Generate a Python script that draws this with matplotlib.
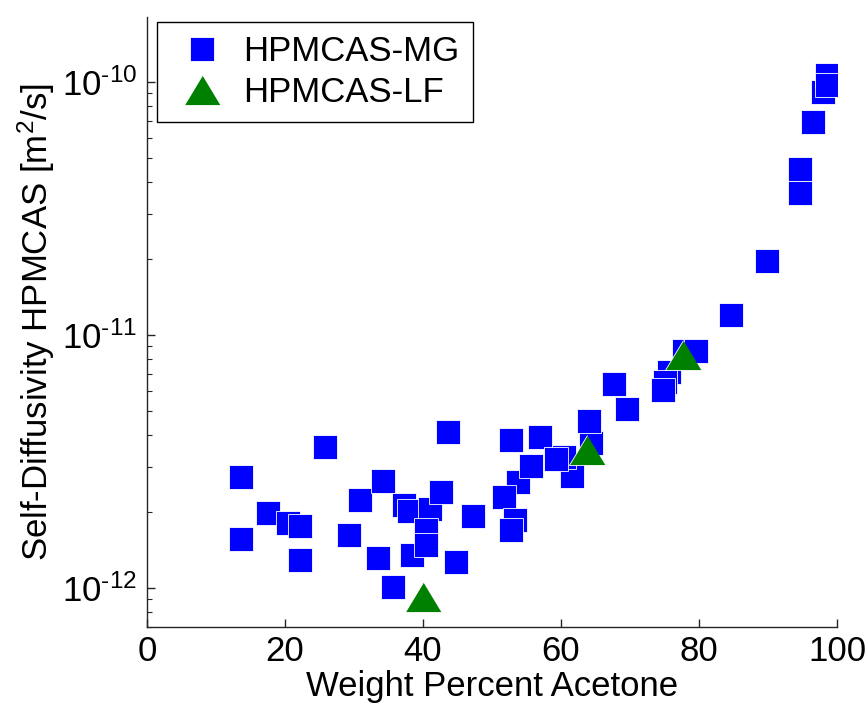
import numpy as np
import matplotlib
matplotlib.use("Agg")
import matplotlib.pyplot as plt
from matplotlib.ticker import FuncFormatter, NullFormatter

plt.rcParams['font.family'] = ['Liberation Sans', 'DejaVu Sans']
plt.rcParams['mathtext.fontset'] = 'custom'
plt.rcParams['mathtext.rm'] = 'Liberation Sans'
plt.rcParams['mathtext.default'] = 'regular'
plt.rcParams['axes.unicode_minus'] = False

# HPMCAS-MG (weight percent acetone, self-diffusivity m^2/s)
mg_acetone = [13.6, 13.6, 17.5, 20.4, 22.2, 22.2, 25.8, 29.3, 30.9, 33.5,
              34.2, 35.6, 37.2, 38.0, 38.4, 41.0, 40.5, 40.5, 42.6, 43.6,
              44.8, 47.2, 52.7, 57.0, 53.7, 55.7, 51.7, 53.4, 52.7, 61.6,
              60.4, 59.3, 64.3, 64.0, 67.7, 69.6, 75.7, 75.0, 74.8, 77.8,
              79.6, 84.6, 89.8, 94.6, 94.6, 96.5, 97.9, 98.6, 98.6]
mg_diff = [2.73e-12, 1.56e-12, 1.98e-12, 1.81e-12, 1.76e-12, 1.29e-12, 3.61e-12, 1.62e-12, 2.22e-12, 1.31e-12,
           2.65e-12, 1.01e-12, 2.12e-12, 2.01e-12, 1.35e-12, 2.04e-12, 1.69e-12, 1.48e-12, 2.39e-12, 4.12e-12,
           1.26e-12, 1.92e-12, 3.84e-12, 3.94e-12, 2.62e-12, 3.03e-12, 2.29e-12, 1.86e-12, 1.69e-12, 2.77e-12,
           3.30e-12, 3.23e-12, 3.73e-12, 4.57e-12, 6.41e-12, 5.07e-12, 7.11e-12, 6.51e-12, 6.04e-12, 8.61e-12,
           8.61e-12, 1.20e-11, 1.95e-11, 4.50e-11, 3.63e-11, 6.90e-11, 9.10e-11, 1.06e-10, 9.70e-11]

# HPMCAS-LF
lf_acetone = [40.0, 63.7, 77.7]
lf_diff = [9.2e-13, 3.5e-12, 8.34e-12]

x_ticks = [0, 20, 40, 60, 80, 100]
y_ticks = [1e-12, 1e-11, 1e-10]

fs = 25
tri = [(0, 0.83), (-1, -0.83), (1, -0.83)]   # wider than tall, like the original
y_lo, y_hi = 7.0e-13, 1.8e-10


def pow10(v, pos):
    n = int(round(np.log10(v)))
    return '$10^{\\text{%d}}$' % n


fig = plt.figure(figsize=(8.68, 7.09), dpi=100)
ax = fig.add_axes([0.1694, 0.1157, 0.7949, 0.8603])

ax.plot(mg_acetone, mg_diff, linestyle='none', marker='s', ms=17.5,
        mfc='#0000ff', mec='white', mew=0.6, label='HPMCAS-MG')
ax.plot(lf_acetone, lf_diff, linestyle='none', marker=tri, ms=26,
        mfc='#008000', mec='white', mew=0.6, label='HPMCAS-LF')

ax.set_yscale('log')
ax.set_xlim(0, 100)
ax.set_ylim(y_lo, y_hi)
ax.set_xticks(x_ticks)
ax.set_yticks(y_ticks)
minor = [m * 10.0 ** e for e in (-13, -12, -11, -10) for m in range(2, 10)]
minor = [v for v in minor if y_lo <= v <= y_hi]
ax.set_yticks(minor, minor=True)
ax.yaxis.set_major_formatter(FuncFormatter(pow10))
ax.yaxis.set_minor_formatter(NullFormatter())

for s in ['top', 'right']:
    ax.spines[s].set_visible(False)
for s in ['left', 'bottom']:
    ax.spines[s].set_color('#262626')
    ax.spines[s].set_linewidth(1.0)

ax.tick_params(axis='both', which='major', direction='in', length=5.5, width=1,
               color='#262626', labelsize=fs)
ax.tick_params(axis='y', which='minor', direction='in', length=3.5, width=0.8,
               color='#262626')
ax.tick_params(axis='x', which='minor', bottom=False)
ax.tick_params(axis='x', pad=6)
ax.tick_params(axis='y', pad=7)

ax.set_xlabel('Weight Percent Acetone', fontsize=fs, labelpad=1)
ax.set_ylabel('Self-Diffusivity HPMCAS [m$^2$/s]', fontsize=fs, labelpad=4)

leg = ax.legend(loc='upper left', bbox_to_anchor=(0.0145, 0.992), fontsize=fs,
                frameon=True, fancybox=False, edgecolor='black', framealpha=1,
                borderpad=0.38, labelspacing=0.22, handlelength=1.85,
                handletextpad=0.25, borderaxespad=0, numpoints=1)
leg.get_frame().set_linewidth(1.0)

fig.savefig('out.png', dpi=100)
